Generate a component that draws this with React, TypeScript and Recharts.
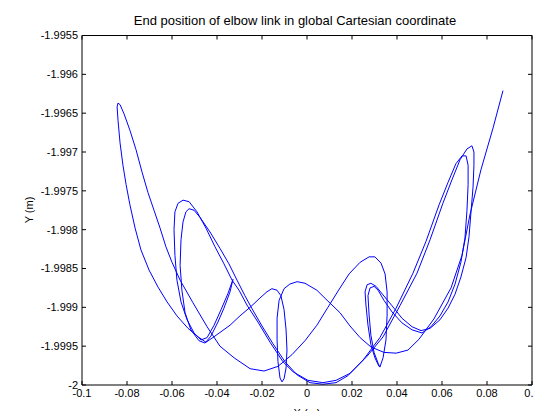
import React from "react";
import { LineChart, Line, XAxis, YAxis } from "recharts";

const FONT = "'Liberation Sans', Arial, Helvetica, sans-serif";

const xTicks = [-0.1, -0.08, -0.06, -0.04, -0.02, 0, 0.02, 0.04, 0.06, 0.08, 0.1];
const yTicks = [-2, -1.9995, -1.999, -1.9985, -1.998, -1.9975, -1.997, -1.9965, -1.996, -1.9955];

// elbow end point [x, y] in metres, in the order it was traced
const rightLoopStart = [
  [0.032, -1.99976], [0.0302, -1.99965], [0.0284, -1.99948], [0.0271, -1.99923],
  [0.0262, -1.99897], [0.0258, -1.9988], [0.0267, -1.99871], [0.0284, -1.99869],
  [0.0307, -1.99873], [0.0338, -1.99884], [0.0378, -1.99898], [0.0422, -1.99914],
  [0.0467, -1.99925], [0.0507, -1.9993],
];

const rightLobeOne = [
  [0.0547, -1.99927], [0.0591, -1.99916], [0.0627, -1.99901], [0.0658, -1.99883],
  [0.0684, -1.99861], [0.0707, -1.99836], [0.072, -1.99809], [0.0729, -1.99777],
  [0.0738, -1.99745], [0.0742, -1.99717], [0.0742, -1.997], [0.0733, -1.99692],
  [0.0711, -1.99696], [0.068, -1.9971], [0.0644, -1.99736], [0.0604, -1.99766],
  [0.0547, -1.99813], [0.0489, -1.99856], [0.0413, -1.99898], [0.0338, -1.99938],
  [0.0267, -1.99963], [0.0191, -1.99985], [0.0129, -1.99994], [0.0071, -1.99997],
];

const leftLobeOne = [
  [0.0004, -1.99994], [-0.0062, -1.99983], [-0.0107, -1.9997], [-0.0164, -1.99945],
  [-0.0218, -1.99919], [-0.0267, -1.99897], [-0.0302, -1.99878], [-0.0333, -1.99865],
  [-0.0369, -1.99844], [-0.0409, -1.99822], [-0.0449, -1.99798], [-0.0489, -1.99777],
  [-0.0524, -1.99764], [-0.0551, -1.99762], [-0.0573, -1.99766], [-0.0587, -1.99777],
  [-0.0591, -1.998], [-0.0587, -1.99833], [-0.0578, -1.99865], [-0.056, -1.99893],
  [-0.0533, -1.99916], [-0.0502, -1.99933], [-0.0471, -1.99942],
];

const leftCusp = [
  [-0.0444, -1.99939], [-0.0413, -1.99923], [-0.0382, -1.99903], [-0.0351, -1.99882],
  [-0.0329, -1.99864], [-0.0342, -1.9988], [-0.0369, -1.99901], [-0.0396, -1.99919],
  [-0.0427, -1.99937], [-0.0453, -1.99946], [-0.048, -1.99943],
];

const leftLobeTwo = [
  [-0.0516, -1.99929], [-0.0542, -1.99907], [-0.0556, -1.99878], [-0.0564, -1.99846],
  [-0.056, -1.99813], [-0.0551, -1.9979], [-0.0538, -1.99777], [-0.0524, -1.99773],
  [-0.0502, -1.99775], [-0.0476, -1.99784], [-0.0431, -1.99803], [-0.0387, -1.99824],
  [-0.0347, -1.99844], [-0.0311, -1.99865], [-0.0276, -1.99885], [-0.0244, -1.99902],
  [-0.02, -1.99924], [-0.0151, -1.99947], [-0.0098, -1.9997], [-0.0044, -1.99987],
  [0.0013, -1.99997], [0.0071, -1.99999], [0.0129, -1.99997],
];

const rightLobeTwo = [
  [0.0182, -1.99988], [0.0249, -1.99968], [0.0324, -1.99939], [0.0396, -1.99901],
  [0.0471, -1.99856], [0.0529, -1.99815], [0.0587, -1.99768], [0.0627, -1.99739],
  [0.0662, -1.99715], [0.0689, -1.99705], [0.0707, -1.99705], [0.0716, -1.99717],
  [0.0716, -1.99742], [0.0711, -1.99775], [0.0702, -1.99811], [0.0684, -1.99842],
  [0.0658, -1.9987], [0.0627, -1.99893], [0.0591, -1.99911], [0.0551, -1.99925],
  [0.0511, -1.99933],
];

const rightLoopReturn = [
  [0.0467, -1.99929], [0.0422, -1.9992], [0.0378, -1.99906], [0.0342, -1.99891],
  [0.0316, -1.99878], [0.0298, -1.99873], [0.028, -1.99875], [0.0271, -1.99885],
  [0.0276, -1.9991], [0.0284, -1.99936], [0.0298, -1.99958], [0.0316, -1.99972],
  [0.0324, -1.99977], [0.0338, -1.99965], [0.0351, -1.99942], [0.0356, -1.9991],
  [0.0356, -1.9988], [0.0347, -1.99857], [0.0329, -1.99843], [0.0302, -1.99835],
  [0.0276, -1.99835],
];

const lowerSweep = [
  [0.0236, -1.99842], [0.0187, -1.99857], [0.0138, -1.99879], [0.0093, -1.999],
  [0.0044, -1.99923], [-0.0009, -1.99943], [-0.0067, -1.99961], [-0.0129, -1.99976],
  [-0.0191, -1.99982], [-0.0253, -1.99979], [-0.0324, -1.99965], [-0.0387, -1.9995],
  [-0.0444, -1.99925], [-0.0507, -1.99894], [-0.0564, -1.99865], [-0.06, -1.99842],
  [-0.0627, -1.99822], [-0.0653, -1.99798], [-0.068, -1.99775], [-0.0707, -1.99752],
  [-0.0733, -1.99726], [-0.076, -1.99697], [-0.0787, -1.99672], [-0.0813, -1.99651],
  [-0.0831, -1.99639], [-0.084, -1.99637],
];

const outerBranch = [
  [-0.0844, -1.99642], [-0.084, -1.99659], [-0.0831, -1.99688], [-0.0818, -1.99717],
  [-0.0804, -1.99742], [-0.0787, -1.99768], [-0.0764, -1.99798], [-0.0738, -1.99826],
  [-0.0702, -1.99852], [-0.0662, -1.99874], [-0.0622, -1.99893], [-0.0578, -1.99911],
  [-0.0529, -1.99927], [-0.0484, -1.99938], [-0.0449, -1.99945],
];

const centreLoop = [
  [-0.0409, -1.99937], [-0.0342, -1.99923], [-0.0298, -1.99911], [-0.0253, -1.999],
  [-0.0209, -1.99888], [-0.0178, -1.9988], [-0.0156, -1.99876], [-0.0133, -1.99878],
  [-0.0116, -1.99885], [-0.0102, -1.99903], [-0.0093, -1.99929], [-0.0089, -1.99955],
  [-0.0093, -1.99978], [-0.0102, -1.99992], [-0.0111, -1.99996], [-0.012, -1.99991],
  [-0.0129, -1.9997], [-0.0133, -1.99942], [-0.0133, -1.99914], [-0.0124, -1.99891],
  [-0.0102, -1.99876], [-0.0076, -1.9987], [-0.0044, -1.99867],
];

const finalRise = [
  [-0.0009, -1.99869], [0.0044, -1.99878], [0.0093, -1.99892], [0.0147, -1.99907],
  [0.0191, -1.99924], [0.0236, -1.99939], [0.0284, -1.99951], [0.0342, -1.99958],
  [0.0396, -1.99959], [0.0449, -1.99955], [0.0498, -1.99941], [0.0564, -1.99915],
  [0.064, -1.99875], [0.0689, -1.99833], [0.0724, -1.99781], [0.0773, -1.99723],
  [0.0827, -1.99669], [0.0871, -1.99621],
];

const path = [
  ...rightLoopStart,
  ...rightLobeOne,
  ...leftLobeOne,
  ...leftCusp,
  ...leftLobeTwo,
  ...rightLobeTwo,
  ...rightLoopReturn,
  ...lowerSweep,
  ...outerBranch,
  ...centreLoop,
  ...finalRise,
].map(([x, y]) => ({ x, y }));

const fmt = (v: number) => String(Number(v.toFixed(4)));

const tickStyle = { fill: "#000", fontSize: 11, fontFamily: FONT };

// keeps the tick marks but draws no label
const NoLabel = () => <g />;

export default function App() {
  return (
    <div
      style={{
        position: "relative",
        width: 534,
        height: 411,
        marginBottom: -8,
        background: "#fff",
        fontFamily: FONT,
        color: "#000",
      }}
    >
      <div
        style={{
          position: "absolute",
          left: 0,
          top: 6,
          width: 574,
          textAlign: "center",
          fontSize: 13,
          lineHeight: "13px",
          whiteSpace: "nowrap",
        }}
      >
        End position of elbow link in global Cartesian coordinate
      </div>

      <LineChart
        width={534}
        height={411}
        data={path}
        margin={{ top: 26.5, right: 9, bottom: 4, left: 14 }}
      >
        <XAxis
          dataKey="x"
          type="number"
          domain={[-0.1, 0.1]}
          ticks={xTicks}
          interval={0}
          allowDataOverflow
          tickFormatter={fmt}
          tick={tickStyle}
          tickSize={-4}
          tickMargin={8}
          height={30}
          stroke="#000"
        />
        {/* mirrored axes close the box, with inward ticks like the bottom/left */}
        <XAxis
          xAxisId="top"
          orientation="top"
          dataKey="x"
          type="number"
          domain={[-0.1, 0.1]}
          ticks={xTicks}
          interval={0}
          allowDataOverflow
          tick={NoLabel}
          tickSize={-4}
          height={1}
          stroke="#000"
        />
        <YAxis
          type="number"
          domain={[-2, -1.9955]}
          ticks={yTicks}
          interval={0}
          allowDataOverflow
          tickFormatter={fmt}
          tick={tickStyle}
          tickSize={-4}
          tickMargin={8}
          width={60}
          stroke="#000"
        />
        <YAxis
          yAxisId="right"
          orientation="right"
          type="number"
          domain={[-2, -1.9955]}
          ticks={yTicks}
          interval={0}
          allowDataOverflow
          tick={NoLabel}
          tickSize={-4}
          width={1}
          stroke="#000"
        />
        <Line
          xAxisId="top"
          yAxisId="right"
          dataKey="y"
          stroke="none"
          dot={false}
          activeDot={false}
          isAnimationActive={false}
        />
        <Line
          dataKey="y"
          type="linear"
          stroke="#0000ff"
          strokeWidth={1}
          dot={false}
          activeDot={false}
          isAnimationActive={false}
        />
      </LineChart>

      <div
        style={{
          position: "absolute",
          left: 269,
          top: 400,
          width: 60,
          textAlign: "center",
          fontSize: 11,
          lineHeight: "11px",
        }}
      >
        X (m)
      </div>
      <div
        style={{
          position: "absolute",
          left: -9,
          top: 195,
          width: 60,
          textAlign: "center",
          fontSize: 11,
          lineHeight: "14px",
          transform: "rotate(-90deg)",
        }}
      >
        Y (m)
      </div>
    </div>
  );
}
